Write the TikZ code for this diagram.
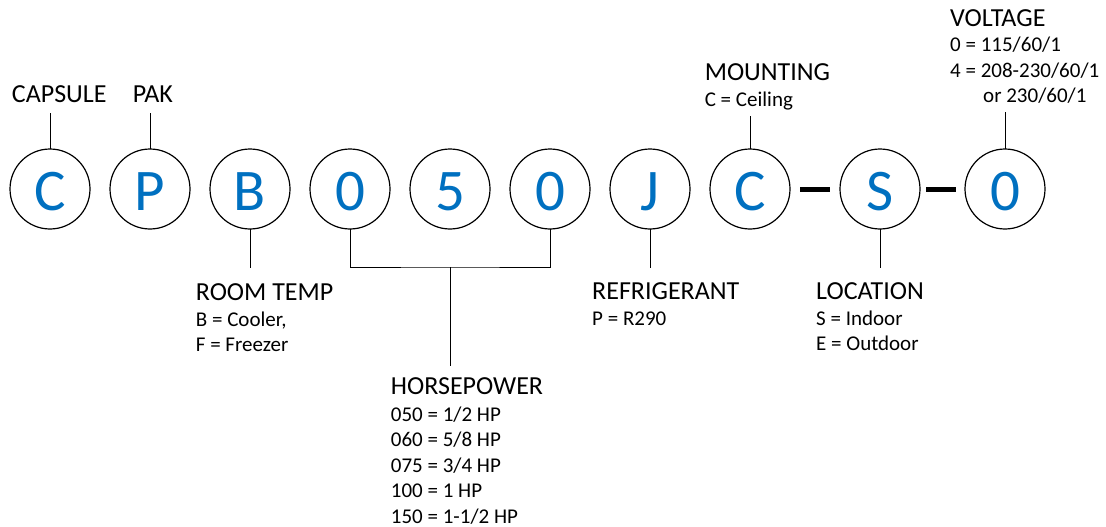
\documentclass[tikz,border=0pt]{standalone}
\usepackage{fontspec}
\setmainfont{Carlito}
\usepackage{xcolor}
\usepackage{tikz}
\usetikzlibrary{positioning, calc}
\definecolor{codeblue}{RGB}{0,112,192}
\newcommand{\fieldname}[1]{{\fontsize{26}{25.5}\selectfont #1}}
\tikzset{
  % Model number styles
  digit/.style={circle, draw=black, line width=1.2pt, minimum size=80pt, inner sep=0pt, outer sep=0pt, text=codeblue, font=\fontsize{59}{59}\selectfont, text height=43pt, text depth=0pt},
  field/.style={anchor=north west, inner sep=0pt, align=left, font=\fontsize{21}{25.5}\selectfont},
  leader/.style={line width=1pt},
  dashbar/.style={line width=5pt},
}

\begin{document}
\begin{tikzpicture}[x=1pt, y=-1pt]
    \useasboundingbox (0,0) rectangle (1106,527);

    % Code characters
    \node[digit] (cap) at (50,189) {C};
    \node[digit, right=20pt of cap] (pak) {P};
    \node[digit, right=20pt of pak] (room) {B};
    \node[digit, right=20pt of room] (hpa) {0};
    \node[digit, right=20pt of hpa] (hpb) {5};
    \node[digit, right=20pt of hpb] (hpc) {0};
    \node[digit, right=20pt of hpc] (refr) {J};
    \node[digit, right=20pt of refr] (mount) {C};
    \node[digit, right=50pt of mount] (loc) {S};
    \node[digit, right=45pt of loc] (volt) {0};

    % Dashes
    \draw[dashbar, shorten <=10pt, shorten >=10pt] (mount) -- (loc);
    \draw[dashbar, shorten <=6pt, shorten >=9pt] (loc) -- (volt);

    % Top fields
    \node[field] (capsule) at (11.7,85.5) {\fieldname{CAPSULE}};
    \node[field] (pakname) at (132.7,85.5) {\fieldname{PAK}};
    \node[field] (mounting) at (704.6,63.5) {\fieldname{MOUNTING}\\C = Ceiling};
    \node[field] (voltage) at (950,9) {\fieldname{VOLTAGE}\\0 = 115/60/1\\4 = 208-230/60/1\\\hspace*{33pt}or 230/60/1};

    % Bottom fields
    \node[field] (roomtemp) at (195.7,283.5) {\fieldname{ROOM TEMP}\\B = Cooler,\\F = Freezer};
    \node[field] (horsepower) at (390.7,377) {\fieldname{HORSEPOWER}\\[1.5pt]050 = 1/2 HP\\060 = 5/8 HP\\075 = 3/4 HP\\100 = 1 HP\\150 = 1-1/2 HP};
    \node[field] (refrigerant) at (592,282.5) {\fieldname{REFRIGERANT}\\P = R290};
    \node[field] (location) at (816,282.5) {\fieldname{LOCATION}\\S = Indoor\\E = Outdoor};

    % Leaders up
    \draw[leader, shorten >=10pt] (cap.north) -- (cap.north |- capsule.south);
    \draw[leader, shorten >=10pt] (pak.north) -- (pak.north |- pakname.south);
    \draw[leader, shorten >=6.5pt] (mount.north) -- (mount.north |- mounting.south);
    \draw[leader, shorten >=8pt] (volt.north) -- (volt.north |- voltage.south);

    % Leaders down
    \draw[leader, shorten >=16pt] (room.south) -- (room.south |- roomtemp.north);
    \coordinate (hpbar) at ($(hpb.south)+(0,38)$);
    \draw[leader] (hpa.south) |- (hpbar) -| (hpc.south);
    \draw[leader, shorten >=11pt] (hpbar) -- (hpbar |- horsepower.north);
    \draw[leader, shorten >=15pt] (refr.south) -- (refr.south |- refrigerant.north);
    \draw[leader, shorten >=15pt] (loc.south) -- (loc.south |- location.north);
\end{tikzpicture}
\end{document}
